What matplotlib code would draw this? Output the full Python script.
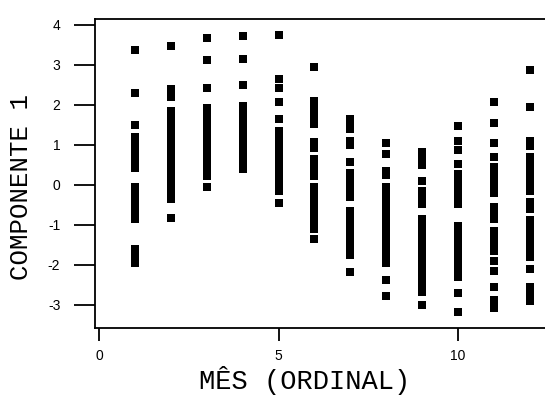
import matplotlib
matplotlib.use("Agg")
import matplotlib.pyplot as plt
import numpy as np

plt.rcParams['axes.unicode_minus'] = False

# values of "componente 1" read per month
months = [1, 2, 3, 4, 5, 6, 7, 8, 9, 10, 11, 12]
m1 = [3.37, 2.3, 1.5, 1.2, 1.05, 0.9, 0.75, 0.6, 0.42, -0.05, -0.2, -0.35, -0.5, -0.65, -0.85, -1.6, -1.75, -1.95]
m2 = [3.47, 2.4, 2.2, 1.85, 1.7, 1.55, 1.4, 1.25, 1.1, 0.95, 0.8, 0.65, 0.5, 0.35, 0.2, 0.05, -0.1, -0.22, -0.35, -0.82]
m3 = [3.67, 3.12, 2.42, 1.92, 1.78, 1.62, 1.47, 1.32, 1.17, 1.02, 0.87, 0.72, 0.57, 0.42, 0.22, -0.05]
m4 = [3.72, 3.15, 2.5, 1.97, 1.82, 1.67, 1.52, 1.37, 1.22, 1.07, 0.92, 0.77, 0.62, 0.5, 0.4]
m5 = [3.75, 2.65, 2.42, 2.08, 1.65, 1.35, 1.2, 1.05, 0.9, 0.75, 0.6, 0.45, 0.3, 0.15, 0.0, -0.15, -0.45]
m6 = [2.95, 2.1, 1.95, 1.8, 1.65, 1.52, 1.07, 0.92, 0.65, 0.5, 0.35, 0.22, -0.05, -0.2, -0.35, -0.5, -0.65, -0.8, -0.95, -1.1, -1.35]
m7 = [1.65, 1.5, 1.4, 1.1, 1.0, 0.57, 0.3, 0.15, 0.0, -0.15, -0.3, -0.65, -0.8, -0.95, -1.1, -1.25, -1.4, -1.55, -1.75, -2.17]
m8 = [1.05, 0.77, 0.35, 0.25, -0.05, -0.2, -0.35, -0.5, -0.65, -0.8, -0.95, -1.1, -1.25, -1.4, -1.55, -1.7, -1.85, -1.95, -2.38, -2.77]
m9 = [0.82, 0.65, 0.5, 0.1, -0.15, -0.3, -0.48, -0.85, -1.0, -1.15, -1.3, -1.45, -1.6, -1.75, -1.9, -2.05, -2.2, -2.35, -2.5, -2.67, -3.0]
m10 = [1.48, 1.1, 0.87, 0.52, 0.27, 0.15, 0.0, -0.15, -0.3, -0.48, -1.02, -1.17, -1.32, -1.47, -1.62, -1.77, -1.92, -2.07, -2.2, -2.3, -2.7, -3.17]
m11 = [2.07, 1.55, 1.05, 0.7, 0.45, 0.25, 0.1, -0.05, -0.2, -0.55, -0.7, -0.85, -1.15, -1.3, -1.5, -1.65, -1.9, -2.15, -2.55, -2.88, -3.07]
m12 = [2.87, 1.95, 1.1, 0.98, 0.7, 0.5, 0.35, 0.2, 0.05, -0.15, -0.42, -0.6, -0.88, -1.03, -1.18, -1.33, -1.48, -1.63, -1.8, -2.1, -2.55, -2.72, -2.9]
values = [m1, m2, m3, m4, m5, m6, m7, m8, m9, m10, m11, m12]

xticks = [0, 5, 10]
yticks = [-3, -2, -1, 0, 1, 2, 3, 4]

fig = plt.figure(figsize=(5.45, 4.05), dpi=100)
ax = fig.add_axes([95/545, 77/405, 1 - 95/545, 309/405])

for m, vals in zip(months, values):
    ax.plot([m]*len(vals), vals, 's', color='black', markersize=5.7, markeredgewidth=0)

ax.set_xlim(-0.11, 12.42)
ax.set_ylim(-3.575, 4.15)
ax.set_xticks(xticks)
ax.set_yticks(yticks)
ax.spines['right'].set_visible(False)
for s in ['left', 'top', 'bottom']:
    ax.spines[s].set_linewidth(1.3)
ax.tick_params(axis='y', direction='out', length=15, width=1.3, pad=10)
ax.tick_params(axis='x', direction='out', length=9, width=1.3, pad=6)
for lab in ax.get_xticklabels() + ax.get_yticklabels():
    lab.set_family('Liberation Sans')
    lab.set_fontsize(10)

ax.set_xlabel('MÊS (ORDINAL)', family='Liberation Mono', fontsize=19.5)
ax.set_ylabel('COMPONENTE 1', family='Liberation Mono', fontsize=18.5)
ax.xaxis.set_label_coords((304.5 - 95) / 450, (405 - 366 - 77) / 309)
ax.yaxis.set_label_coords((33 - 95) / 450, (405 - 187 - 77) / 309)

plt.savefig('out.png', dpi=100)
